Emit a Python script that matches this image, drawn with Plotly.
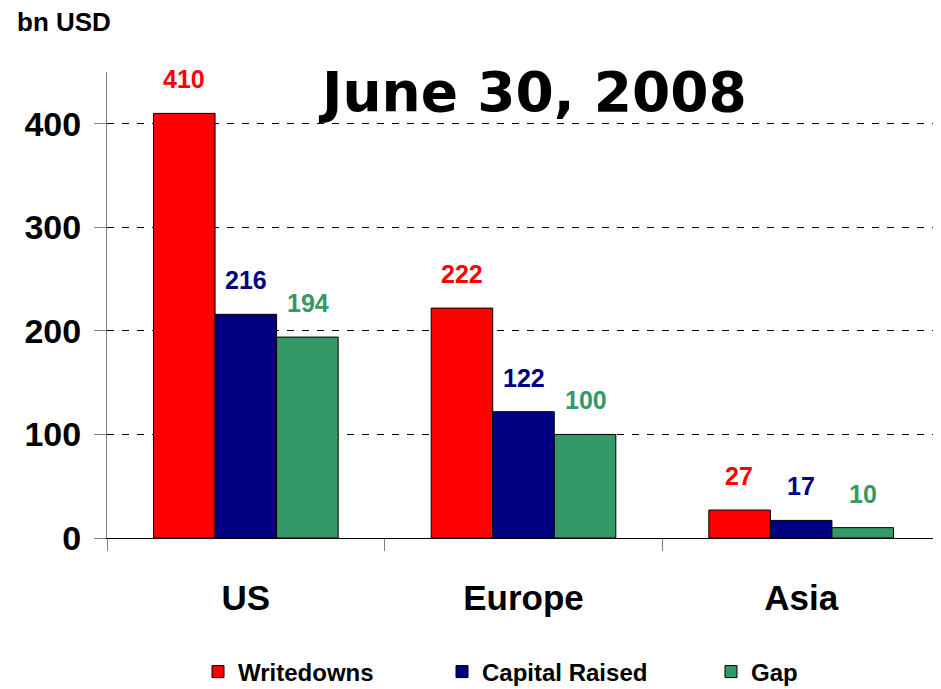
import plotly.graph_objects as go

categories = ["US", "Europe", "Asia"]
writedowns = [410, 222, 27]
capital_raised = [216, 122, 17]
gap = [194, 100, 10]
series_names = ["Writedowns", "Capital Raised", "Gap"]
series_colors = ["#FF0000", "#000080", "#339966"]
y_ticks = [0, 100, 200, 300, 400]

FONT = "Liberation Sans, Arial, sans-serif"
OFF = 8  # page body margin
W, H = 941 - OFF, 689 - OFF
# plot area in window pixels: x 107..940, y 72..538
L = 107 - OFF
T = 72 - OFF
R = W - (940 - OFF)
B = H - (538 - OFF)
PW, PH = W - L - R, H - T - B


def px_x(wx):
    return (wx - OFF - L) / PW


def px_y(wy):
    return 1 - (wy - OFF - T) / PH


fig = go.Figure()
all_series = [writedowns, capital_raised, gap]
legend_ids = ["legend", "legend2", "legend3"]
for name, vals, col, lg in zip(series_names, all_series, series_colors, legend_ids):
    fig.add_trace(go.Bar(
        x=categories, y=vals, name=name, legend=lg,
        marker=dict(color=col, line=dict(color="#000000", width=1)),
    ))

bar_px = 62
for i, (vals, col) in enumerate(zip(all_series, series_colors)):
    for c, v in zip(categories, vals):
        fig.add_annotation(
            x=c, y=v, xref="x", yref="y", text=str(v),
            showarrow=False, xshift=(i - 1) * bar_px, yshift=34,
            yanchor="middle",
            font=dict(family=FONT, size=25, color=col, weight="bold"),
        )

fig.add_annotation(
    x=px_x(15), y=px_y(22), xref="paper", yref="paper", text="bn USD",
    showarrow=False, xanchor="left", yanchor="middle",
    font=dict(family=FONT, size=26, color="#000000", weight="bold"),
)
fig.add_annotation(
    x=px_x(532.5), y=px_y(92), xref="paper", yref="paper", text="June 30, 2008",
    showarrow=False, xanchor="center", yanchor="middle",
    font=dict(family="DejaVu Sans, Verdana, sans-serif", size=55, color="#000000", weight="bold"),
)

legend_style = dict(
    orientation="h", xanchor="left", y=px_y(672), yanchor="middle",
    font=dict(family=FONT, size=24, color="#000000", weight="bold"),
    itemwidth=30, bgcolor="rgba(0,0,0,0)",
)
legend_x = [198, 442, 711]

fig.update_layout(
    width=W, height=H,
    margin=dict(l=L, r=R, t=T, b=B, autoexpand=False),
    paper_bgcolor="white", plot_bgcolor="white",
    barmode="group", bargap=0.335, bargroupgap=0,
    showlegend=True,
    legend=dict(x=px_x(legend_x[0]), **legend_style),
    legend2=dict(x=px_x(legend_x[1]), **legend_style),
    legend3=dict(x=px_x(legend_x[2]), **legend_style),
    xaxis=dict(
        showline=True, linecolor="#000000", linewidth=1,
        ticks="outside", tickson="boundaries", ticklen=12, tickcolor="#808080",
        tickfont=dict(family=FONT, size=35, color="#000000", weight="bold"),
        ticklabelstandoff=29, automargin=False,
        showgrid=False,
    ),
    yaxis=dict(
        range=[0, 450], tickvals=y_ticks,
        showline=True, linecolor="#808080", linewidth=1,
        ticks="outside", ticklen=12, tickcolor="#808080",
        tickfont=dict(family=FONT, size=34, color="#000000", weight="bold"),
        ticklabelstandoff=6, automargin=False,
        showgrid=True, gridcolor="#000000", griddash="7px,8px", gridwidth=1,
        zeroline=False,
    ),
)

fig.write_html("out.html")
